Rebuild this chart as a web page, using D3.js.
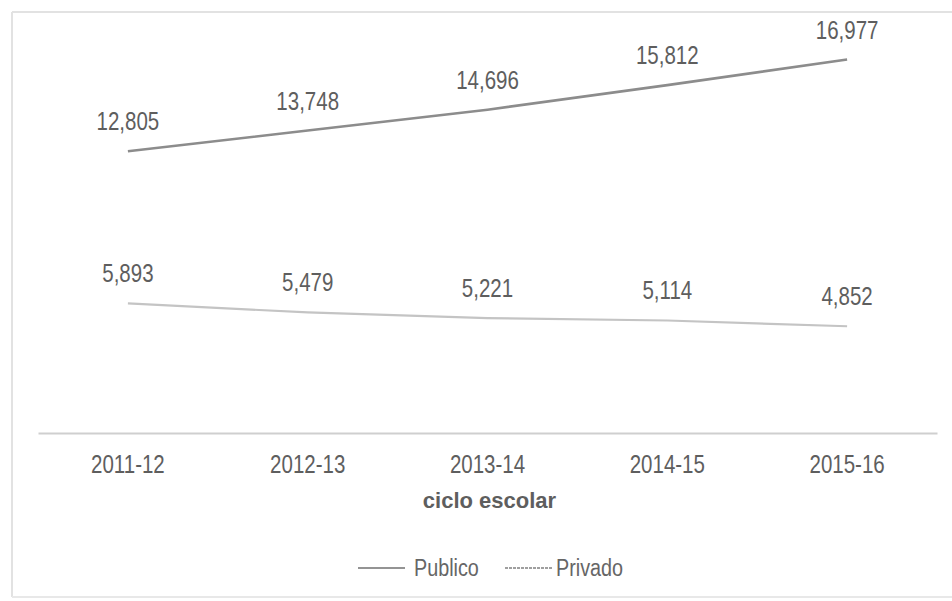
<!DOCTYPE html>
<html>
<head>
<meta charset="utf-8">
<script src="https://cdn.jsdelivr.net/npm/d3@7/dist/d3.min.js"></script>
<style>
  html, body { margin: 0; padding: 0; background: #fff; }
  svg { display: block; }
  text { font-family: "Liberation Sans", Arial, sans-serif; }
</style>
</head>
<body>
<svg id="chart" width="952" height="601"></svg>
<script>
const categories = ["2011-12", "2012-13", "2013-14", "2014-15", "2015-16"];
const publico = [12805, 13748, 14696, 15812, 16977];
const privado = [5893, 5479, 5221, 5114, 4852];
const seriesNames = ["Publico", "Privado"];
const axisTitle = "ciclo escolar";

const svg = d3.select("#chart");
const W = 952, H = 601;
const plot = { left: 38, right: 937, top: 37, bottom: 433 };
const NARROW = 0.82;
const textColor = "#5e5e5e";

// chart frame (scanned border)
svg.append("line").attr("x1", 12).attr("x2", W).attr("y1", 12).attr("y2", 12)
  .attr("stroke", "#e2e2e2").attr("stroke-width", 2);
svg.append("line").attr("x1", 12).attr("x2", 12).attr("y1", 12).attr("y2", 597)
  .attr("stroke", "#e2e2e2").attr("stroke-width", 2);
svg.append("line").attr("x1", 12).attr("x2", W).attr("y1", 597).attr("y2", 597)
  .attr("stroke", "#e8e8e8").attr("stroke-width", 2);

const x = d3.scaleBand().domain(categories).range([plot.left, plot.right]).padding(0);
const y = d3.scaleLinear().domain([0, 18000]).range([plot.bottom, plot.top]);
const cx = c => x(c) + x.bandwidth() / 2;

// category axis
const xAxis = d3.axisBottom(x).tickSize(0).tickPadding(0);
const gx = svg.append("g").attr("transform", `translate(0,${plot.bottom})`).call(xAxis);
gx.select(".domain").attr("stroke", "#cfcfcf").attr("stroke-width", 2);
gx.selectAll(".tick text")
  .attr("dy", null).attr("y", 40)
  .attr("transform", `scale(${NARROW},1)`)
  .attr("fill", textColor).attr("font-size", 25)
  .attr("font-family", '"Liberation Sans", Arial, sans-serif');

svg.append("text").attr("x", (plot.left + plot.right) / 2 + 2).attr("y", 508)
  .attr("text-anchor", "middle").attr("font-size", 22).attr("font-weight", "bold")
  .attr("transform", null)
  .attr("fill", textColor).text(axisTitle);

const series = [
  { name: seriesNames[0], values: publico, color: "#8c8c8c", width: 2.6 },
  { name: seriesNames[1], values: privado, color: "#c4c4c4", width: 2.2 }
];

const line = d3.line().x(d => cx(d.c)).y(d => y(d.v));

series.forEach(s => {
  const pts = categories.map((c, i) => ({ c, v: s.values[i] }));
  svg.append("path").datum(pts).attr("d", line)
    .attr("fill", "none").attr("stroke", s.color).attr("stroke-width", s.width);
  svg.append("g").selectAll("g").data(pts).join("g")
    .attr("transform", d => `translate(${cx(d.c)},${y(d.v) - 21}) scale(${NARROW},1)`)
    .append("text")
    .attr("text-anchor", "middle").attr("font-size", 25).attr("fill", textColor)
    .text(d => d3.format(",")(d.v));
});

// legend
const legend = [
  { name: seriesNames[0], x1: 358, x2: 405, tx: 414, dash: null, color: "#707070" },
  { name: seriesNames[1], x1: 505, x2: 553, tx: 556, dash: "3,1", color: "#808080" }
];
legend.forEach(l => {
  svg.append("line").attr("x1", l.x1).attr("x2", l.x2).attr("y1", 568).attr("y2", 568)
    .attr("stroke", l.color).attr("stroke-width", 1.5).attr("stroke-dasharray", l.dash);
  svg.append("g").attr("transform", `translate(${l.tx},576) scale(0.86,1)`)
    .append("text").attr("font-size", 23).attr("fill", "#666").text(l.name);
});
</script>
</body>
</html>
